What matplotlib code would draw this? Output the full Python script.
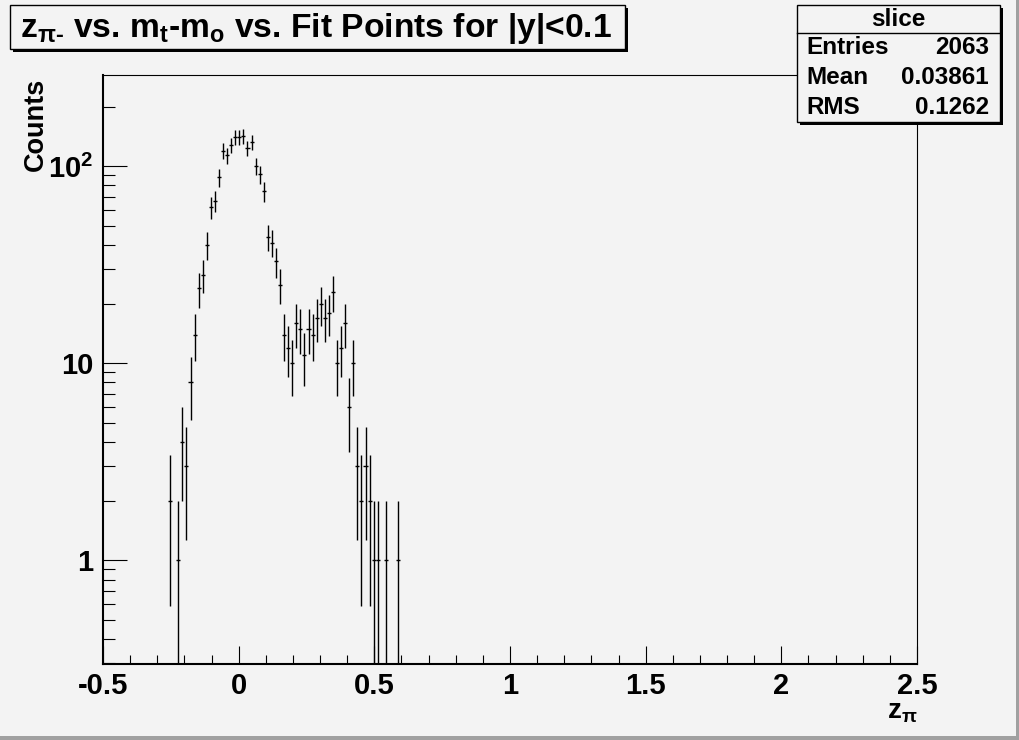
import numpy as np
import matplotlib
matplotlib.use("Agg")
import matplotlib.pyplot as plt
from matplotlib.patches import Rectangle
from matplotlib.ticker import LogLocator, MultipleLocator, FixedLocator, FixedFormatter, NullFormatter

plt.rcParams["font.family"] = ["Liberation Sans", "DejaVu Sans"]
plt.rcParams["font.weight"] = "bold"
plt.rcParams["mathtext.fontset"] = "custom"
plt.rcParams["mathtext.rm"] = "Liberation Sans:bold"
plt.rcParams["mathtext.it"] = "Liberation Sans:bold"
plt.rcParams["mathtext.bf"] = "Liberation Sans:bold"
plt.rcParams["mathtext.sf"] = "Liberation Sans:bold"

# histogram: 200 bins from -0.5 to 2.5, filled bins start at index 16
x_lo, x_hi, n_bins = -0.5, 2.5, 200
first_bin = 16
counts = [2, 0, 1, 4, 3, 8, 14, 24, 28, 40,
          62, 67, 88, 120, 114, 128, 141, 141, 142, 124,
          133, 100, 91, 75, 44, 41, 33, 25, 14, 12,
          10, 16, 15, 11, 15, 14, 17, 20, 17, 18,
          23, 10, 12, 16, 6, 10, 3, 2, 3, 2,
          1, 1, 0, 1, 0, 0, 1]

x_ticks = [-0.5, 0, 0.5, 1, 1.5, 2, 2.5]
x_tick_labels = ["-0.5", "0", "0.5", "1", "1.5", "2", "2.5"]
y_ticks = [1, 10, 100]
y_tick_labels = ["1", "10", "10$^2$"]

title = r"z$_{\pi\text{-}}$ vs. m$_{t}$-m$_{o}$ vs. Fit Points for |y|<0.1"
stats_name = "slice"
stats_rows = [("Entries", "2063"), ("Mean", "0.03861"), ("RMS", "0.1262")]

bg = "#f3f3f3"
W, H = 1020, 740

counts = np.array(counts, dtype=float)
width = (x_hi - x_lo) / n_bins
centers = x_lo + width * (np.arange(first_bin, first_bin + len(counts)) + 0.5)
keep = counts > 0
xc, yc = centers[keep], counts[keep]
err = np.sqrt(yc)
lo = np.clip(yc - err, 1e-4, None)

fig = plt.figure(figsize=(W / 100, H / 100), dpi=100, facecolor=bg)
ax = fig.add_axes([103 / W, 1 - 664 / H, 814 / W, 589 / H], facecolor=bg)

ax.errorbar(xc, yc, yerr=[yc - lo, err], xerr=width / 2, fmt="none",
            ecolor="black", elinewidth=1.0, capsize=0)

ax.set_yscale("log")
ax.set_xlim(x_lo, x_hi)
ax.set_ylim(0.298, 291)

ax.xaxis.set_major_locator(FixedLocator(x_ticks))
ax.xaxis.set_major_formatter(FixedFormatter(x_tick_labels))
ax.xaxis.set_minor_locator(MultipleLocator(0.1))
ax.yaxis.set_major_locator(FixedLocator(y_ticks))
ax.yaxis.set_major_formatter(FixedFormatter(y_tick_labels))
ax.yaxis.set_minor_locator(LogLocator(base=10, subs=np.arange(2, 10), numticks=20))
ax.yaxis.set_minor_formatter(NullFormatter())

ax.tick_params(axis="x", which="major", direction="in", length=13, width=0.8,
               labelsize=21, pad=6)
ax.tick_params(axis="x", which="minor", direction="in", length=6.5, width=0.8)
ax.tick_params(axis="y", which="major", direction="in", length=17, width=0.8,
               labelsize=21, pad=7)
ax.tick_params(axis="y", which="minor", direction="in", length=8.5, width=0.8)
for s in ["top", "right"]:
    ax.spines[s].set_linewidth(0.8)
for s in ["bottom", "left"]:
    ax.spines[s].set_linewidth(1.5)

fig.text(36 / W, 1 - 78 / H, "Counts", rotation=90, ha="center", va="top",
         fontsize=19.5, fontweight="bold")
fig.text(918 / W, 1 - 712 / H, r"z$_{\pi}$", ha="right", va="center",
         fontsize=20, fontweight="bold")

# overlay in pixel coordinates for title box, stats box and canvas border
ov = fig.add_axes([0, 0, 1, 1], facecolor="none")
ov.set_xlim(0, W)
ov.set_ylim(H, 0)
ov.axis("off")

def pave(x0, y0, x1, y1):
    ov.add_patch(Rectangle((x0 + 3, y0 + 3), x1 - x0, y1 - y0, facecolor="black",
                           edgecolor="black", lw=0))
    ov.add_patch(Rectangle((x0, y0), x1 - x0, y1 - y0, facecolor=bg,
                           edgecolor="black", lw=1))

pave(10, 5, 625, 49)
ov.text(316, 28, title, ha="center", va="center", fontsize=24.2, fontweight="bold")

pave(797, 5, 1000, 122)
ov.plot([797, 1000], [33, 33], color="black", lw=1)
ov.text(898, 19, stats_name, ha="center", va="center", fontsize=17.5, fontweight="bold")
for k, (lab, val) in enumerate(stats_rows):
    yy = 48 + 30 * k
    ov.text(806, yy, lab, ha="left", va="center", fontsize=17.5, fontweight="bold")
    ov.text(989, yy, val, ha="right", va="center", fontsize=17.5, fontweight="bold")

# canvas 3d border
ov.add_patch(Rectangle((W - 4, 0), 4, H, facecolor="#a0a0a0", lw=0))
ov.add_patch(Rectangle((0, H - 4), W, 4, facecolor="#a0a0a0", lw=0))

fig.savefig("out.png", dpi=100, facecolor=bg)
